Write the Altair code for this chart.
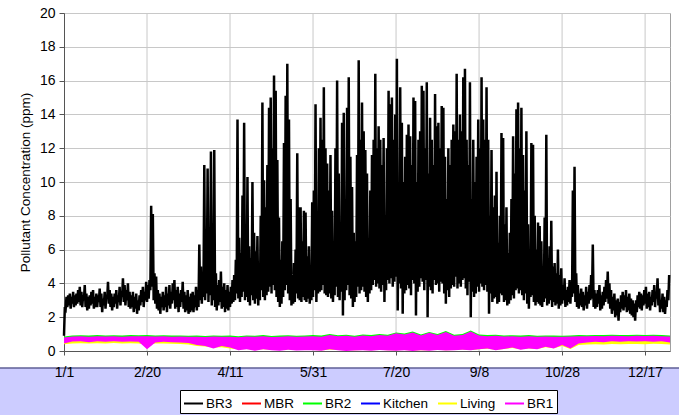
import altair as alt
import pandas as pd

# ---------------- data ----------------
series_names = ["BR3", "MBR", "BR2", "Kitchen", "Living", "BR1"]
series_colors = ["#000000", "#FF0000", "#00FF00", "#0000FF", "#FFFF00", "#FF00FF"]
tick_days = [0, 50, 100, 150, 200, 250, 300, 350]
tick_labels = ["1/1", "2/20", "4/11", "5/31", "7/20", "9/8", "10/28", "12/17"]
y_ticks = [0, 2, 4, 6, 8, 10, 12, 14, 16, 18, 20]

# BR3: daily high / low (ppm), day 0 = Jan 1
br3_high = [
    2.6, 3.2, 3.3, 3.4, 3.2, 3.5, 3.3, 3.4, 3.6, 3.8,
    3.5, 3.3, 3.9, 3.4, 3.2, 3.3, 3.5, 3.6, 3.2, 3.4,
    3.3, 3.7, 3.4, 3.1, 3.5, 3.3, 4.1, 3.6, 3.4, 3.2,
    3.4, 3.6, 3.3, 3.8, 3.5, 4.3, 3.9, 3.6, 4.0, 3.5,
    3.3, 3.5, 3.2, 3.4, 3.0, 3.3, 3.6, 3.8, 3.5, 4.1,
    3.9, 4.2, 8.6, 8.1, 4.6, 4.4, 3.6, 3.4, 3.2, 3.5,
    3.3, 3.8, 3.4, 3.9, 3.5, 4.0, 4.2, 3.6, 3.8, 3.4,
    3.6, 4.1, 3.5, 3.3, 3.6, 3.2, 3.4, 3.5, 3.3, 3.8,
    3.6, 6.3, 5.0, 4.5, 11.0, 6.0, 10.8, 5.5, 11.8, 5.2,
    11.9, 4.6, 3.9, 4.2, 4.7, 3.8, 4.0, 3.6, 3.9, 3.5,
    3.8, 4.2, 4.5, 5.4, 13.7, 6.7, 5.8, 9.2, 13.5, 7.5,
    10.3, 6.2, 5.5, 10.0, 7.0, 5.9, 6.8, 5.2, 8.0, 14.7,
    10.1, 8.5, 11.0, 14.4, 15.0, 12.0, 16.3, 15.4, 11.3, 7.9,
    5.4, 6.5, 12.3, 15.1, 17.0, 13.7, 9.0, 4.5, 5.2, 6.0,
    11.7, 8.5, 8.5, 6.5, 8.3, 8.2, 5.6, 6.2, 4.5, 8.8,
    9.5, 14.6, 5.5, 12.0, 13.8, 12.5, 15.6, 12.0, 11.1, 9.5,
    11.6, 8.3, 5.0, 12.0, 16.0, 10.5, 7.6, 13.5, 14.1, 9.0,
    14.4, 16.2, 11.5, 9.7, 7.0, 6.5, 11.6, 17.2, 12.5, 14.7,
    13.0, 11.9, 10.5, 6.0, 9.5, 11.6, 12.5, 16.4, 12.0, 13.3,
    12.5, 11.0, 12.6, 8.0, 12.0, 15.4, 14.6, 15.0, 12.5, 14.0,
    17.3, 9.5, 15.6, 13.5, 10.0, 11.5, 12.8, 13.4, 12.7, 11.0,
    15.0, 14.8, 10.0, 12.5, 13.0, 15.7, 15.4, 12.0, 15.9, 10.5,
    13.8, 12.5, 11.0, 15.2, 13.3, 13.5, 12.0, 14.5, 14.4, 11.5,
    9.0, 12.0, 11.0, 12.5, 13.4, 13.0, 16.4, 12.5, 14.0, 13.0,
    16.2, 16.7, 12.5, 11.0, 15.9, 9.0, 12.5, 10.0, 11.5, 13.7,
    12.0, 16.2, 13.7, 12.5, 15.6, 12.5, 8.0, 11.9, 8.5, 9.2,
    10.6, 6.4, 8.0, 12.9, 12.6, 7.5, 8.5, 5.8, 7.0, 9.0,
    12.7, 10.5, 14.3, 14.7, 12.0, 14.4, 11.6, 9.5, 13.0, 7.5,
    5.5, 12.3, 12.2, 8.0, 6.0, 7.6, 7.4, 6.5, 4.5, 7.9,
    12.8, 5.5, 6.2, 7.7, 5.0, 5.2, 4.6, 6.0, 4.5, 4.9,
    3.9, 4.3, 3.6, 3.8, 4.2, 4.0, 9.5, 10.9, 4.6, 3.9,
    3.4, 3.7, 3.5, 3.3, 3.8, 3.5, 3.9, 4.5, 6.3, 3.6,
    3.4, 3.6, 3.9, 3.3, 3.5, 3.8, 4.2, 4.7, 4.0, 3.6,
    3.2, 3.4, 3.0, 3.1, 2.9, 3.3, 3.5, 3.3, 3.6, 3.2,
    3.4, 3.1, 3.0, 2.8, 3.0, 3.3, 3.5, 3.4, 3.3, 3.6,
    3.8, 3.4, 3.5, 3.2, 3.6, 3.9, 3.5, 4.3, 3.7, 3.0,
    3.4, 3.2, 3.0, 3.6, 4.5,
]
br3_low = [
    0.9, 2.5, 2.6, 2.7, 2.5, 2.8, 2.6, 2.7, 2.8, 2.9,
    2.7, 2.6, 3.0, 2.6, 2.4, 2.5, 2.7, 2.8, 2.5, 2.6,
    2.6, 2.9, 2.6, 2.3, 2.7, 2.5, 3.1, 2.8, 2.6, 2.4,
    2.6, 2.8, 2.5, 2.9, 2.7, 3.2, 2.9, 2.7, 3.0, 2.6,
    2.5, 2.6, 2.3, 2.5, 2.2, 2.4, 2.7, 2.9, 2.6, 3.0,
    2.9, 3.1, 3.6, 3.8, 3.0, 2.8, 2.5, 2.4, 2.2, 2.6,
    2.4, 2.6, 2.3, 2.7, 2.5, 2.8, 3.0, 2.5, 2.6, 2.3,
    2.6, 2.9, 2.5, 2.3, 2.4, 2.2, 2.3, 2.4, 2.3, 2.6,
    2.4, 2.6, 3.0, 2.8, 3.2, 3.0, 3.4, 2.9, 3.3, 2.7,
    3.0, 2.6, 2.4, 2.7, 2.9, 2.5, 2.6, 2.3, 2.5, 2.4,
    2.6, 2.8, 2.9, 3.0, 3.4, 3.1, 2.9, 3.2, 3.5, 3.0,
    3.2, 2.9, 2.7, 3.3, 3.0, 2.8, 3.1, 2.7, 3.0, 3.6,
    3.2, 3.0, 3.3, 3.5, 3.8, 3.4, 3.9, 3.6, 3.2, 2.9,
    2.6, 2.8, 3.2, 3.6, 3.9, 3.4, 3.0, 2.7, 2.8, 2.9,
    3.4, 3.1, 3.0, 2.9, 3.2, 3.0, 2.9, 3.1, 2.8, 3.0,
    3.2, 3.6, 2.9, 3.4, 3.5, 3.6, 3.9, 3.4, 3.3, 3.2,
    3.4, 3.1, 2.9, 3.3, 3.8, 3.2, 3.0, 3.5, 2.1, 3.0,
    3.6, 3.9, 3.3, 3.1, 2.6, 2.9, 3.2, 3.8, 3.4, 3.6,
    3.8, 3.5, 3.2, 2.9, 3.4, 3.6, 3.9, 4.2, 3.8, 4.0,
    3.7, 3.5, 3.9, 2.9, 3.6, 4.2, 4.0, 4.3, 3.8, 4.1,
    4.4, 2.4, 4.0, 3.7, 2.2, 3.4, 3.6, 3.9, 3.7, 3.3,
    4.2, 4.0, 2.1, 3.5, 3.8, 4.3, 4.1, 3.6, 4.2, 2.0,
    3.8, 3.6, 3.4, 4.2, 3.9, 4.0, 3.5, 4.1, 4.0, 3.4,
    2.8, 3.6, 3.2, 3.7, 3.9, 3.8, 4.4, 3.7, 4.0, 3.8,
    4.2, 4.3, 3.7, 3.3, 4.1, 2.0, 3.5, 3.2, 3.4, 3.8,
    3.5, 4.0, 3.8, 3.6, 3.9, 3.5, 2.2, 3.4, 2.9, 3.1,
    3.2, 2.8, 2.9, 3.4, 3.3, 2.9, 3.0, 2.7, 2.8, 3.0,
    3.3, 3.1, 3.6, 3.7, 3.4, 3.6, 3.3, 3.0, 3.4, 2.8,
    2.5, 3.2, 3.3, 2.9, 2.7, 2.9, 2.8, 2.7, 2.6, 2.9,
    3.1, 2.7, 2.8, 3.0, 2.6, 2.9, 2.7, 2.8, 2.5, 2.7,
    2.8, 3.0, 2.6, 2.7, 2.9, 2.8, 3.2, 3.4, 2.9, 2.6,
    2.5, 2.7, 2.6, 2.4, 2.7, 2.5, 2.8, 3.0, 3.1, 2.6,
    2.5, 2.6, 2.8, 2.4, 2.5, 2.7, 2.9, 3.1, 2.8, 2.5,
    2.2, 2.4, 2.0, 2.1, 1.8, 2.3, 2.5, 2.4, 2.6, 2.3,
    2.4, 2.2, 2.1, 2.0, 1.8, 2.3, 2.6, 2.5, 2.4, 2.7,
    2.8, 2.5, 2.6, 2.4, 2.7, 2.9, 2.6, 3.1, 2.7, 2.3,
    2.5, 2.3, 2.2, 2.6, 3.0,
]

# Low-level rooms: band (low / high) sampled every 5 days
band_days = list(range(0, 366, 5))
br1_high = [
    0.80, 0.86, 0.87, 0.85, 0.88, 0.86, 0.87, 0.85, 0.88, 0.87,
    0.88, 0.86, 0.87, 0.85, 0.86, 0.84, 0.85, 0.83, 0.86, 0.84,
    0.85, 0.82, 0.86, 0.84, 0.88, 0.83, 0.85, 0.87, 0.84, 0.86,
    0.88, 0.85, 0.95, 0.87, 0.90, 0.84, 0.92, 0.88, 0.95, 0.90,
    1.05, 0.98, 1.10, 0.92, 1.08, 0.95, 1.12, 0.90, 0.94, 1.15,
    0.92, 0.88, 0.90, 0.86, 0.87, 0.85, 0.88, 0.84, 0.86, 0.85,
    0.84, 0.86, 0.88, 0.87, 0.89, 0.88, 0.90, 0.89, 0.88, 0.90,
    0.89, 0.90, 0.88, 0.86,
]
br1_low = [
    0.45, 0.56, 0.58, 0.52, 0.57, 0.55, 0.58, 0.54, 0.56, 0.55,
    0.10, 0.50, 0.55, 0.52, 0.50, 0.48, 0.35, 0.30, 0.15, 0.30,
    0.20, 0.05, 0.10, 0.02, 0.10, 0.05, 0.02, 0.08, 0.03, 0.05,
    0.05, 0.02, 0.10, 0.04, 0.00, 0.03, 0.05, 0.02, 0.06, 0.03,
    0.02, 0.05, 0.00, 0.04, 0.02, 0.06, 0.03, 0.05, 0.08, 0.04,
    0.10, 0.15, 0.05, 0.12, 0.20, 0.08, 0.15, 0.10, 0.25, 0.15,
    0.35, 0.15, 0.45, 0.50, 0.55, 0.52, 0.58, 0.55, 0.57, 0.56,
    0.58, 0.55, 0.57, 0.50,
]
br2_high = [
    0.86, 0.92, 0.93, 0.91, 0.94, 0.92, 0.93, 0.91, 0.94, 0.93,
    0.94, 0.92, 0.93, 0.91, 0.92, 0.90, 0.91, 0.89, 0.92, 0.90,
    0.91, 0.88, 0.92, 0.90, 0.94, 0.89, 0.91, 0.93, 0.90, 0.92,
    0.94, 0.91, 1.00, 0.93, 0.96, 0.90, 0.98, 0.94, 1.01, 0.96,
    1.10, 1.04, 1.16, 0.98, 1.13, 1.01, 1.18, 0.96, 1.00, 1.21,
    0.98, 0.94, 0.96, 0.92, 0.93, 0.91, 0.94, 0.90, 0.92, 0.91,
    0.90, 0.92, 0.94, 0.93, 0.95, 0.94, 0.96, 0.95, 0.94, 0.96,
    0.95, 0.96, 0.94, 0.92,
]
br2_low = [
    0.60, 0.66, 0.67, 0.65, 0.66, 0.65, 0.67, 0.64, 0.66, 0.65,
    0.62, 0.64, 0.65, 0.63, 0.60, 0.58, 0.50, 0.45, 0.40, 0.42,
    0.35, 0.30, 0.32, 0.28, 0.30, 0.27, 0.25, 0.30, 0.28, 0.26,
    0.25, 0.24, 0.30, 0.26, 0.22, 0.25, 0.27, 0.24, 0.28, 0.25,
    0.24, 0.27, 0.22, 0.26, 0.24, 0.28, 0.25, 0.27, 0.30, 0.26,
    0.30, 0.34, 0.28, 0.32, 0.38, 0.30, 0.35, 0.32, 0.42, 0.36,
    0.48, 0.40, 0.60, 0.63, 0.65, 0.64, 0.67, 0.65, 0.66, 0.66,
    0.67, 0.65, 0.66, 0.62,
]
living_high = [
    0.70, 0.74, 0.75, 0.73, 0.75, 0.74, 0.75, 0.73, 0.75, 0.74,
    0.74, 0.73, 0.74, 0.72, 0.73, 0.71, 0.72, 0.70, 0.72, 0.71,
    0.70, 0.68, 0.70, 0.69, 0.71, 0.68, 0.70, 0.71, 0.69, 0.70,
    0.71, 0.69, 0.72, 0.70, 0.71, 0.69, 0.72, 0.70, 0.73, 0.71,
    0.72, 0.71, 0.73, 0.70, 0.72, 0.71, 0.73, 0.70, 0.71, 0.72,
    0.71, 0.70, 0.71, 0.69, 0.70, 0.69, 0.71, 0.69, 0.70, 0.70,
    0.70, 0.69, 0.72, 0.73, 0.74, 0.73, 0.75, 0.74, 0.74, 0.75,
    0.75, 0.74, 0.74, 0.72,
]
living_low = [
    0.40, 0.45, 0.46, 0.44, 0.46, 0.45, 0.47, 0.44, 0.46, 0.45,
    0.35, 0.44, 0.45, 0.43, 0.41, 0.38, 0.30, 0.26, 0.20, 0.22,
    0.15, 0.10, 0.12, 0.08, 0.10, 0.08, 0.06, 0.09, 0.07, 0.08,
    0.06, 0.05, 0.08, 0.06, 0.04, 0.05, 0.06, 0.05, 0.07, 0.05,
    0.04, 0.06, 0.03, 0.05, 0.04, 0.07, 0.05, 0.06, 0.09, 0.06,
    0.10, 0.14, 0.08, 0.12, 0.18, 0.10, 0.15, 0.12, 0.22, 0.16,
    0.30, 0.12, 0.36, 0.38, 0.40, 0.38, 0.42, 0.40, 0.41, 0.42,
    0.40, 0.43, 0.41, 0.38,
]
# hidden series (covered by the others), sampled monthly
month_days = [0, 30, 60, 90, 120, 150, 180, 210, 240, 270, 300, 330, 360, 365]
mbr_high = [0.75, 0.76, 0.75, 0.74, 0.74, 0.76, 0.78, 0.80, 0.78, 0.76, 0.77, 0.78, 0.78, 0.76]
mbr_low = [0.62, 0.63, 0.62, 0.50, 0.35, 0.30, 0.30, 0.30, 0.32, 0.40, 0.60, 0.63, 0.64, 0.62]
kitchen_high = [0.72, 0.73, 0.72, 0.70, 0.70, 0.72, 0.74, 0.75, 0.73, 0.72, 0.73, 0.74, 0.74, 0.72]
kitchen_low = [0.58, 0.60, 0.58, 0.45, 0.20, 0.15, 0.15, 0.15, 0.18, 0.30, 0.55, 0.58, 0.60, 0.58]

# ---------------- tables ----------------
rows = []
for d, (h, l) in enumerate(zip(br3_high, br3_low)):
    rows.append({"day": d, "ppm": l, "series": "BR3"})
    rows.append({"day": d + 0.5, "ppm": h, "series": "BR3"})
br3_df = pd.DataFrame(rows)


def band_df(days, lo, hi):
    return pd.DataFrame({"day": days, "lo": lo, "hi": hi})


bands = [
    ("MBR", band_df(month_days, mbr_low, mbr_high)),
    ("BR2", band_df(band_days, br2_low, br2_high)),
    ("Kitchen", band_df(month_days, kitchen_low, kitchen_high)),
    ("Living", band_df(band_days, living_low, living_high)),
    ("BR1", band_df(band_days, br1_low, br1_high)),
]
color_of = dict(zip(series_names, series_colors))

# ---------------- encodings ----------------
FONT = "Liberation Sans"
label_expr = "[" + ",".join("'%s'" % t for t in tick_labels) + "][indexof([" + \
    ",".join(str(t) for t in tick_days) + "], datum.value)]"

x_scale = alt.Scale(domain=[0, 365], nice=False, zero=False)
y_scale = alt.Scale(domain=[0, 20], nice=False)
x_axis = alt.Axis(values=tick_days, labelExpr=label_expr, grid=False, tickSize=4,
                  labelPadding=10, title=None, zindex=1, domainColor="#555555",
                  tickColor="#555555", labelFontSize=14, labelColor="black",
                  labelFont=FONT, labelFlush=False)
y_axis = alt.Axis(values=y_ticks, grid=True, gridColor="#c8c8c8", tickSize=5,
                  labelPadding=4, labelFontSize=14, labelColor="black", labelFont=FONT,
                  domainColor="#555555", tickColor="#555555",
                  title="Pollutant Concentration (ppm)", titleFont=FONT,
                  titleFontSize=13.5, titleFontWeight="normal", titleColor="black",
                  titleAngle=270, titleX=-39, titleY=169, titleAlign="center",
                  titleBaseline="middle")


def X(field="day"):
    return alt.X(field + ":Q", scale=x_scale, axis=x_axis)


def Y(field):
    return alt.Y(field + ":Q", scale=y_scale, axis=y_axis)


# decorative lavender strip under the plot
strip = alt.Chart(alt.Data(values=[{}])).mark_rect(color="#CCCCFF", clip=False).encode(
    x=alt.value(-64), x2=alt.value(615), y=alt.value(355), y2=alt.value(402))
strip_line = alt.Chart(alt.Data(values=[{}])).mark_rule(color="#5F5F96", strokeWidth=1.5, clip=False).encode(
    x=alt.value(-64), x2=alt.value(615), y=alt.value(355))

# vertical grid lines at tick positions
vgrid = alt.Chart(pd.DataFrame({"day": tick_days[1:]})).mark_rule(
    color="#c8c8c8", strokeWidth=1).encode(x=X())

br3_line = alt.Chart(br3_df).mark_line(strokeWidth=2.5, interpolate="linear").encode(
    x=X(),
    y=Y("ppm"),
    color=alt.Color("series:N",
                    scale=alt.Scale(domain=series_names, range=series_colors),
                    legend=alt.Legend(orient="none", legendX=116, legendY=377,
                                      direction="horizontal", columns=6, title=None,
                                      labelFont=FONT, labelFontSize=13.5, labelColor="black",
                                      symbolType="stroke", symbolSize=361,
                                      symbolStrokeWidth=2, labelOffset=2,
                                      columnPadding=5, padding=3,
                                      strokeColor="black", fillColor="white",
                                      cornerRadius=0, zindex=1)),
)

band_layers = []
for name, df in bands:
    band_layers.append(
        alt.Chart(df).mark_area(color=color_of[name], opacity=1, interpolate="linear").encode(
            x=X(), y=Y("lo"), y2="hi:Q")
    )

chart = alt.layer(strip, strip_line, vgrid, br3_line, *band_layers).properties(
    width=606, height=338,
    autosize=alt.AutoSizeParams(type="none"),
    padding={"left": 64, "top": 13, "right": 9, "bottom": 64},
    background="white",
).configure_view(stroke="#a0a0a0", strokeWidth=1)

chart.save("out.html", embed_options={"renderer": "svg", "actions": False})
